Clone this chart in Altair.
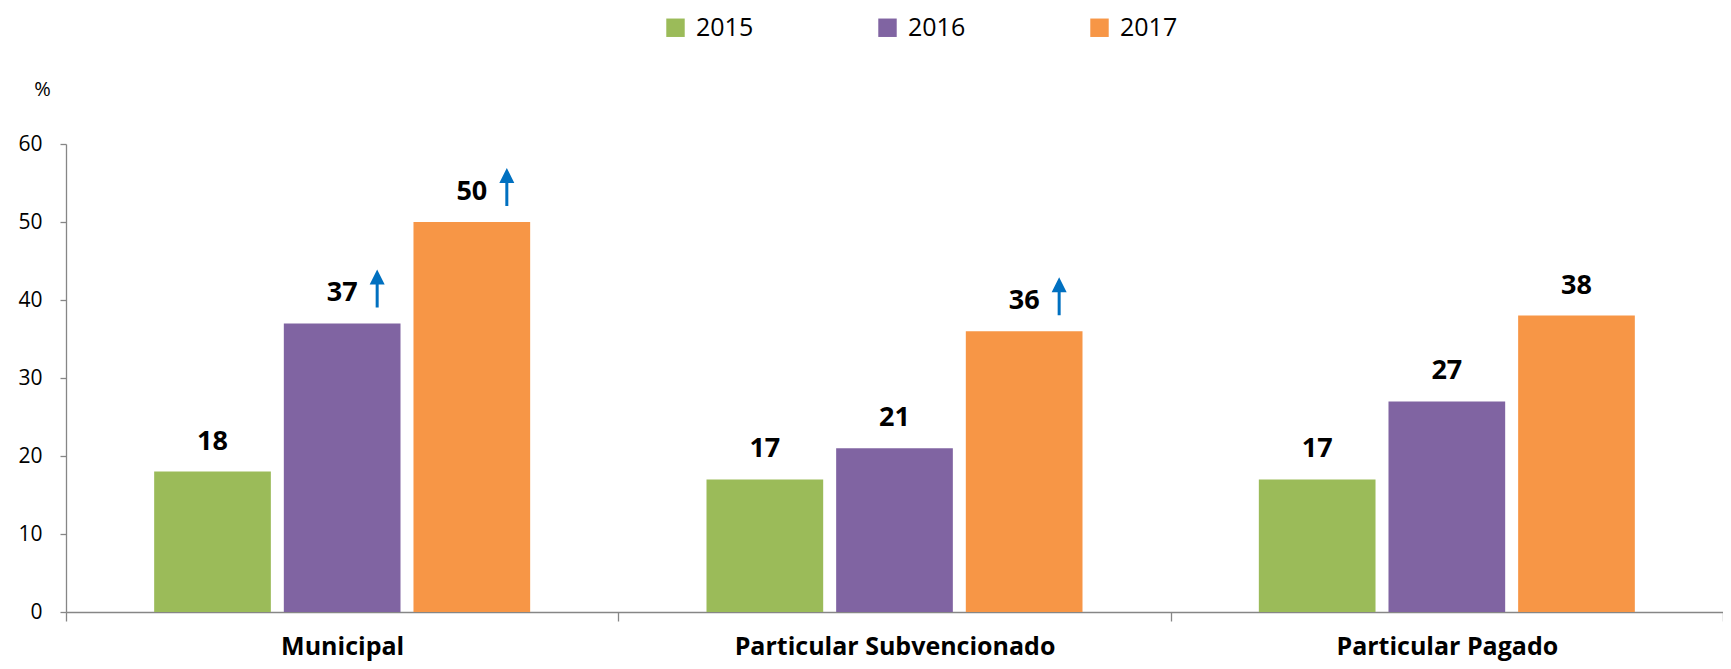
import altair as alt
import pandas as pd

categories = ["Municipal", "Particular Subvencionado", "Particular Pagado"]
years = ["2015", "2016", "2017"]
values_2015 = [18, 17, 17]
values_2016 = [37, 21, 27]
values_2017 = [50, 36, 38]
arrows_2016 = [True, False, False]
arrows_2017 = [True, True, False]
colors = ["#9BBB59", "#8064A2", "#F79646"]

rows = []
for i, c in enumerate(categories):
    for y, vals, arr in [("2015", values_2015, [False] * 3),
                         ("2016", values_2016, arrows_2016),
                         ("2017", values_2017, arrows_2017)]:
        rows.append({"cat": c, "year": y, "value": vals[i], "arrow": arr[i]})
df = pd.DataFrame(rows)

FONT = "Open Sans"
AX = "#868686"

x = alt.X("cat:N", sort=categories,
          scale=alt.Scale(paddingInner=0, paddingOuter=0),
          axis=alt.Axis(title=None, labelFontWeight="bold", labelFontSize=25,
                        labelColor="black", labelFont=FONT, tickSize=9,
                        tickBand="extent", labelPadding=33, labelBaseline="alphabetic",
                        labelAngle=0, domainColor=AX, tickColor=AX,
                        domainWidth=1.3, tickWidth=1.3, labelLimit=500))
xo = alt.XOffset("year:N", sort=years,
                 scale=alt.Scale(paddingInner=0.1, paddingOuter=0.68))
y = alt.Y("value:Q", scale=alt.Scale(domain=[0, 60], nice=False),
          axis=alt.Axis(values=[0, 10, 20, 30, 40, 50, 60], grid=False,
                        labelFontSize=21, labelColor="black", labelFont=FONT,
                        tickSize=6, labelPadding=18, domainColor=AX, tickColor=AX,
                        domainWidth=1.3, tickWidth=1.3,
                        title="%", titleAngle=0, titleX=-24, titleY=-55,
                        titleAlign="center", titleBaseline="middle",
                        titleFontSize=20, titleFontWeight="normal", titleFont=FONT,
                        titleColor="black"))

bars = alt.Chart(df).mark_bar().encode(
    x=x, xOffset=xo, y=y,
    color=alt.Color("year:N", sort=years,
                    scale=alt.Scale(domain=years, range=colors),
                    legend=alt.Legend(title=None, orient="none", direction="horizontal",
                                      legendX=597, legendY=-129, symbolType="square",
                                      symbolSize=340, symbolStrokeWidth=0,
                                      labelFontSize=25, labelFont=FONT, labelColor="black",
                                      columnPadding=121, labelOffset=8, padding=0))
)

labels = alt.Chart(df).mark_text(dy=-30, baseline="middle", fontSize=27,
                                 fontWeight="bold", font=FONT, color="black").encode(
    x=x, xOffset=xo, y=y, text=alt.Text("value:Q")
)

arrow_path = ("M3.35,-1.6 L3.65,-1.6 L3.65,-3.9 L4.25,-3.9 L3.5,-5.4 "
              "L2.75,-3.9 L3.35,-3.9 Z")
arrows = alt.Chart(df).transform_filter("datum.arrow").mark_point(
    shape=arrow_path, filled=True, size=400, color="#0070C0", opacity=1,
    strokeWidth=0).encode(x=x, xOffset=xo, y=y)

chart = alt.layer(bars, labels, arrows).properties(
    width=1657, height=468,
    padding={"left": 58, "top": 136, "right": 0, "bottom": 49},
    autosize=alt.AutoSizeParams(type="none"),
).configure_view(stroke=None)

chart.save("out.html", embed_options={"renderer": "svg", "actions": False})
